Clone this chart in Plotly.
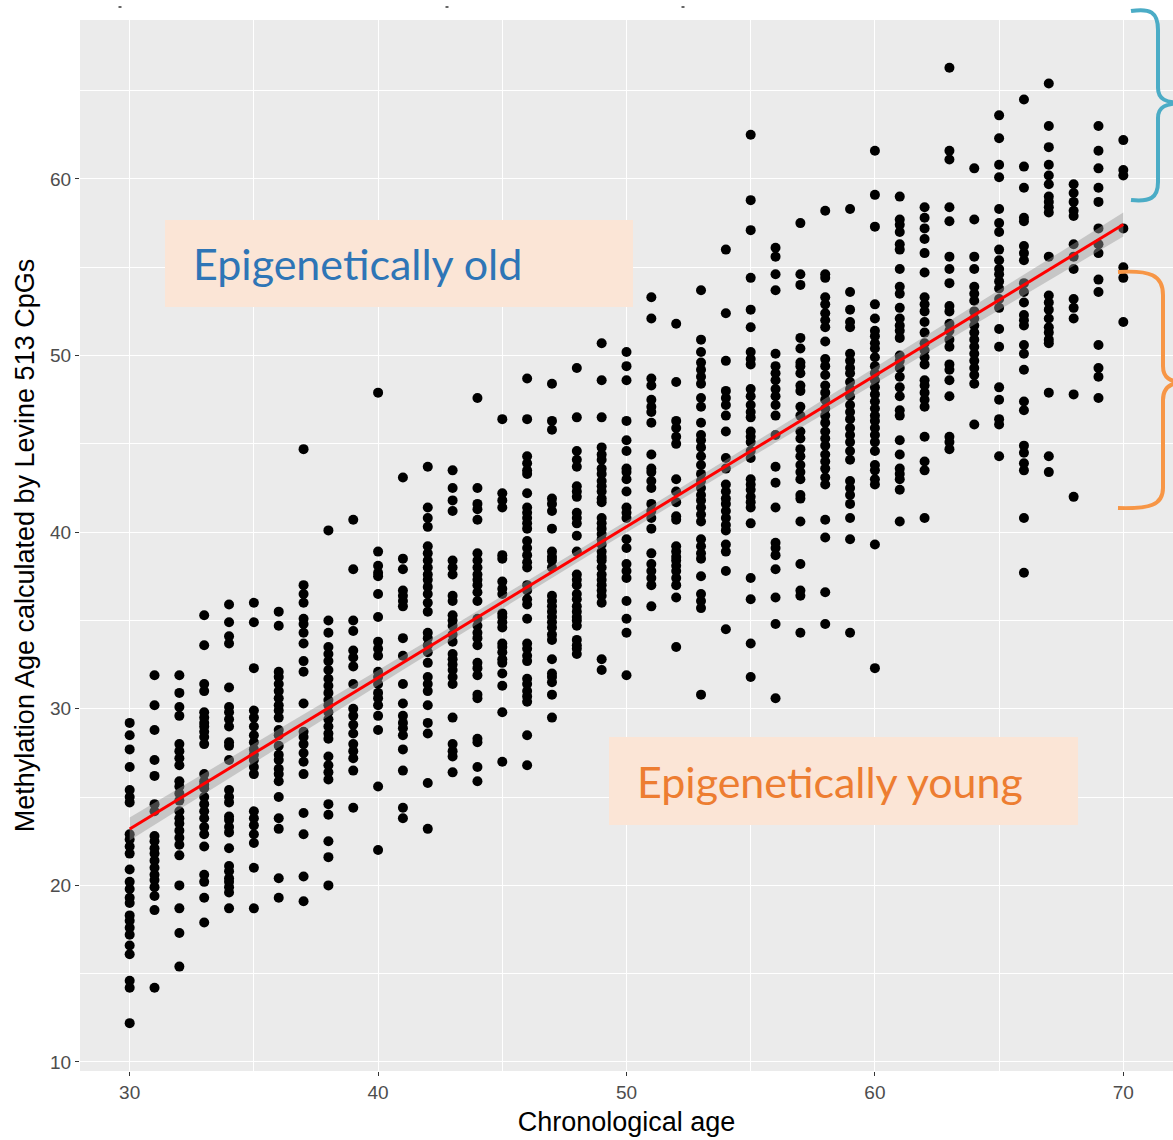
import numpy as np
import plotly.graph_objects as go

# ---------------- data: methylation age per chronological age column ----------------
ages = list(range(30, 71))

m30 = [29.2, 28.5, 27.7, 26.7, 25.4, 25.0, 24.7, 22.9, 22.6, 22.2, 21.8, 20.9, 20.2, 19.8, 19.3, 19.0, 18.3, 18.0, 17.6, 17.2, 16.6, 16.1, 14.6, 14.2, 12.2]
m31 = [31.9, 30.2, 28.8, 27.1, 26.2, 24.6, 24.2, 22.8, 22.5, 22.1, 21.8, 21.4, 21.0, 20.6, 20.3, 19.9, 19.4, 18.6, 14.2]
m32 = [31.9, 30.9, 30.1, 29.6, 28.0, 27.6, 27.2, 26.8, 25.9, 25.6, 25.2, 24.8, 24.2, 23.8, 23.5, 23.1, 22.7, 22.3, 21.7, 20.0, 18.7, 17.3, 15.4]
m33 = [35.3, 33.6, 31.4, 31.0, 29.8, 29.5, 29.2, 29.0, 28.7, 28.4, 28.0, 26.3, 25.9, 25.7, 25.5, 25.0, 24.6, 24.2, 23.8, 23.3, 22.9, 22.2, 20.6, 20.2, 19.3, 17.9]
m34 = [35.9, 34.9, 34.1, 33.7, 31.2, 30.1, 29.8, 29.4, 29.0, 28.1, 27.9, 27.1, 25.4, 25.0, 24.7, 23.9, 23.7, 23.3, 23.0, 22.1, 21.1, 20.8, 20.4, 20.2, 19.9, 19.6, 18.7]
m35 = [36.0, 34.9, 32.3, 29.9, 29.5, 29.0, 28.5, 28.1, 27.7, 27.4, 27.1, 26.7, 26.3, 24.2, 23.8, 23.4, 22.9, 22.4, 21.0, 18.7]
m36 = [35.5, 34.7, 32.1, 31.8, 31.4, 31.0, 30.6, 30.2, 29.9, 29.5, 28.8, 28.5, 27.9, 27.4, 27.1, 26.6, 26.3, 25.9, 25.0, 23.8, 23.2, 20.4, 19.3]
m37 = [44.7, 37.0, 36.5, 36.0, 35.1, 34.8, 34.3, 33.7, 32.7, 32.1, 30.3, 28.7, 28.4, 28.0, 27.5, 27.0, 26.3, 24.1, 22.9, 20.5, 19.1]
m38 = [40.1, 35.0, 34.3, 33.5, 33.1, 32.7, 32.2, 31.7, 31.3, 30.9, 30.5, 30.2, 29.8, 29.4, 29.0, 28.6, 28.3, 27.3, 26.8, 26.4, 26.0, 24.6, 24.0, 22.5, 21.6, 20.0]
m39 = [40.7, 37.9, 35.0, 34.4, 33.3, 32.9, 32.4, 31.4, 30.0, 29.6, 29.1, 28.6, 28.0, 27.6, 27.2, 26.5, 24.4]
m40 = [47.9, 38.9, 38.1, 37.7, 37.5, 36.5, 35.2, 33.8, 33.4, 33.0, 32.1, 31.8, 31.4, 30.9, 30.6, 30.2, 29.6, 28.8, 25.6, 22.0]
m41 = [43.1, 38.5, 37.9, 36.7, 36.4, 36.1, 35.8, 34.0, 33.0, 31.4, 30.3, 29.6, 29.2, 28.9, 28.5, 27.7, 26.5, 24.4, 23.8]
m42 = [43.7, 41.4, 40.8, 40.3, 39.2, 38.8, 38.4, 38.0, 37.6, 37.3, 36.9, 36.5, 36.0, 35.5, 34.3, 34.0, 33.6, 33.2, 32.6, 31.8, 31.4, 31.0, 30.2, 29.2, 28.6, 25.8, 23.2]
m43 = [43.5, 42.5, 41.8, 41.2, 38.4, 38.0, 37.6, 36.4, 36.1, 35.3, 35.0, 34.7, 34.2, 33.8, 33.1, 32.8, 32.5, 32.2, 31.8, 31.4, 29.5, 28.0, 27.6, 27.3, 26.4]
m44 = [47.6, 42.5, 41.6, 41.3, 40.7, 38.8, 38.4, 38.0, 37.6, 37.3, 37.0, 36.6, 36.1, 35.1, 34.7, 34.3, 34.0, 33.6, 32.6, 32.3, 31.9, 30.8, 30.6, 28.3, 28.1, 26.7, 25.9]
m45 = [46.4, 42.2, 41.8, 41.4, 38.7, 38.5, 37.2, 36.8, 36.5, 35.4, 35.2, 34.9, 34.6, 33.7, 33.5, 33.2, 32.8, 32.6, 32.0, 31.3, 29.8, 27.0]
m46 = [48.7, 46.4, 44.3, 43.9, 43.5, 43.3, 42.2, 41.4, 41.1, 40.8, 40.5, 40.2, 39.5, 39.1, 38.7, 38.3, 38.0, 37.0, 36.7, 36.2, 35.9, 35.1, 33.7, 33.4, 33.0, 32.7, 31.7, 31.4, 31.0, 30.7, 30.4, 28.5, 26.8]
m47 = [48.4, 46.3, 45.8, 41.9, 41.6, 41.2, 40.2, 38.9, 38.6, 38.4, 38.0, 36.4, 36.1, 35.8, 35.5, 35.2, 34.9, 34.6, 34.2, 33.9, 32.8, 32.0, 31.8, 31.5, 30.8, 29.5]
m48 = [49.3, 46.5, 44.6, 44.1, 43.7, 42.6, 42.3, 42.0, 41.1, 40.8, 40.5, 39.8, 38.9, 37.6, 37.3, 37.0, 36.5, 36.2, 35.8, 35.5, 35.2, 35.0, 34.7, 33.9, 33.6, 33.4, 33.1]
m49 = [50.7, 48.6, 46.5, 44.8, 44.4, 44.1, 43.6, 43.3, 42.9, 42.6, 42.3, 41.9, 41.7, 40.8, 40.5, 40.2, 39.9, 39.6, 39.3, 38.9, 38.6, 38.4, 38.0, 37.6, 37.3, 37.0, 36.7, 36.4, 36.0, 32.8, 32.2]
m50 = [50.2, 49.4, 48.6, 46.3, 45.2, 44.6, 43.6, 43.4, 43.0, 42.3, 41.4, 41.1, 40.8, 39.6, 39.1, 38.2, 37.8, 37.4, 36.1, 35.1, 34.3, 31.9]
m51 = [53.3, 52.1, 48.7, 48.3, 47.5, 47.1, 46.8, 46.2, 44.4, 43.6, 43.4, 42.9, 42.5, 41.6, 41.2, 40.8, 40.2, 38.8, 38.2, 37.8, 37.4, 37.0, 35.8]
m52 = [51.8, 48.5, 46.3, 45.9, 45.4, 45.0, 43.0, 42.3, 41.7, 40.9, 40.7, 39.2, 38.9, 38.6, 38.4, 38.1, 37.8, 37.4, 37.0, 36.3, 33.5]
m53 = [53.7, 50.9, 50.2, 49.6, 49.2, 48.8, 48.4, 47.6, 47.1, 46.2, 45.5, 45.2, 44.8, 44.3, 43.8, 43.3, 42.9, 42.5, 42.1, 41.8, 41.4, 41.0, 40.6, 39.6, 39.2, 38.8, 38.5, 37.5, 36.5, 36.1, 35.7, 30.8]
m54 = [56.0, 52.4, 49.7, 48.0, 47.6, 47.2, 46.6, 45.7, 44.2, 43.6, 42.7, 42.3, 41.9, 41.6, 41.2, 40.8, 40.4, 40.1, 39.3, 38.9, 37.8, 34.5]
m55 = [62.5, 58.8, 57.1, 54.4, 52.6, 51.6, 50.2, 49.8, 49.5, 48.1, 47.7, 47.2, 46.8, 46.5, 45.7, 45.4, 45.1, 44.6, 44.2, 43.0, 42.7, 42.4, 42.0, 41.7, 41.4, 40.5, 37.4, 36.2, 33.7, 31.8]
m56 = [56.1, 55.6, 54.6, 53.7, 50.1, 49.4, 49.0, 48.6, 48.1, 47.7, 47.2, 46.6, 45.5, 43.7, 42.8, 41.4, 39.4, 39.1, 38.7, 37.9, 36.3, 34.8, 30.6]
m57 = [57.5, 54.6, 54.0, 51.0, 50.4, 49.6, 49.4, 49.0, 48.3, 48.0, 47.1, 46.6, 45.7, 45.3, 44.7, 44.3, 43.8, 43.4, 43.0, 42.1, 41.9, 40.6, 38.2, 36.7, 36.4, 34.3]
m58 = [58.2, 54.6, 54.4, 53.3, 52.9, 52.4, 52.0, 51.6, 50.8, 49.8, 49.4, 48.9, 48.3, 47.9, 47.5, 47.0, 46.6, 46.2, 45.7, 45.3, 44.9, 44.4, 44.0, 43.6, 43.1, 42.7, 40.7, 39.7, 36.6, 34.8]
m59 = [58.3, 53.6, 52.6, 51.9, 51.6, 50.1, 49.7, 49.3, 49.0, 48.5, 48.1, 47.7, 47.2, 46.8, 46.4, 45.9, 45.5, 45.1, 44.6, 44.1, 42.9, 42.5, 42.1, 41.6, 40.8, 39.6, 34.3]
m60 = [61.6, 59.1, 57.3, 52.9, 52.1, 51.4, 51.1, 50.7, 50.4, 49.9, 49.4, 49.0, 48.6, 48.2, 47.8, 47.4, 47.0, 46.6, 46.3, 45.9, 45.5, 45.1, 44.6, 43.8, 43.5, 43.0, 42.7, 39.3, 32.3]
m61 = [59.0, 57.7, 57.4, 57.0, 56.3, 56.0, 54.9, 53.9, 53.5, 52.7, 52.1, 51.7, 51.4, 51.0, 50.0, 49.7, 49.3, 48.8, 48.2, 47.7, 46.9, 46.6, 45.2, 44.4, 43.6, 43.3, 43.0, 42.4, 40.6]
m62 = [58.4, 57.8, 57.2, 56.6, 55.8, 54.7, 53.3, 52.9, 52.5, 51.9, 51.3, 50.7, 50.3, 49.9, 49.5, 48.6, 48.3, 47.9, 47.5, 47.1, 45.4, 44.0, 43.5, 40.8]
m63 = [66.3, 61.6, 61.1, 58.4, 57.6, 55.6, 54.9, 54.1, 52.8, 52.5, 51.8, 51.4, 50.9, 50.5, 49.5, 49.2, 48.6, 47.7, 45.4, 45.1, 44.7]
m64 = [60.6, 57.7, 55.6, 54.9, 53.9, 53.5, 53.1, 52.5, 52.1, 51.7, 51.3, 50.9, 50.5, 50.1, 49.7, 49.3, 48.9, 48.4, 46.1]
m65 = [63.6, 62.3, 60.8, 60.1, 58.3, 57.5, 57.0, 56.0, 55.4, 54.9, 54.6, 54.2, 53.8, 53.2, 52.7, 51.5, 50.5, 48.2, 47.5, 46.4, 46.1, 44.3]
m66 = [64.5, 60.7, 59.5, 57.8, 57.6, 56.2, 55.8, 55.4, 54.1, 53.6, 53.0, 52.3, 52.0, 51.7, 50.6, 50.1, 49.2, 47.4, 46.9, 44.9, 44.5, 43.9, 43.5, 40.8, 37.7]
m67 = [65.4, 63.0, 61.8, 60.8, 60.2, 59.7, 59.0, 58.7, 58.4, 58.1, 55.6, 53.4, 53.0, 52.6, 52.1, 51.6, 51.3, 50.9, 50.7, 47.9, 44.3, 43.4]
m68 = [59.7, 59.2, 58.7, 58.2, 57.9, 56.3, 55.6, 54.9, 53.2, 52.7, 52.1, 47.8, 42.0]
m69 = [63.0, 61.6, 60.6, 59.5, 58.7, 57.2, 56.3, 55.8, 54.3, 53.6, 50.6, 49.3, 48.8, 47.6]
m70 = [62.2, 60.5, 60.2, 57.2, 55.0, 54.4, 51.9]

columns = [m30, m31, m32, m33, m34, m35, m36, m37, m38, m39, m40,
           m41, m42, m43, m44, m45, m46, m47, m48, m49, m50,
           m51, m52, m53, m54, m55, m56, m57, m58, m59, m60,
           m61, m62, m63, m64, m65, m66, m67, m68, m69, m70]

x_tick_vals = [30, 40, 50, 60, 70]
y_tick_vals = [10, 20, 30, 40, 50, 60]

x_title = "Chronological age"
y_title = "Methylation Age calculated by Levine 513 CpGs"
label_old = "Epigenetically old"
label_young = "Epigenetically young"

# ---------------- assemble ----------------
xs, ys = [], []
for a, vals in zip(ages, columns):
    xs += [a] * len(vals)
    ys += vals
xs = np.array(xs, dtype=float)
ys = np.array(ys, dtype=float)

# linear fit with 95% confidence band (like geom_smooth(method="lm"))
n = len(xs)
b1, b0 = np.polyfit(xs, ys, 1)
resid = ys - (b0 + b1 * xs)
s = np.sqrt(np.sum(resid ** 2) / (n - 2))
xbar = xs.mean()
sxx = np.sum((xs - xbar) ** 2)
xf = np.linspace(xs.min(), xs.max(), 80)
yf = b0 + b1 * xf
se = s * np.sqrt(1.0 / n + (xf - xbar) ** 2 / sxx)
tcrit = 1.962
upper = yf + tcrit * se
lower = yf - tcrit * se

fig = go.Figure()
fig.add_trace(go.Scatter(x=xs, y=ys, mode="markers",
                         marker=dict(color="black", size=10, line=dict(width=0)),
                         hoverinfo="x+y"))
fig.add_trace(go.Scatter(x=np.concatenate([xf, xf[::-1]]),
                         y=np.concatenate([upper, lower[::-1]]),
                         fill="toself", fillcolor="rgba(153,153,153,0.45)",
                         line=dict(width=0), hoverinfo="skip", mode="lines"))
fig.add_trace(go.Scatter(x=xf, y=yf, mode="lines",
                         line=dict(color="#FF0000", width=3), hoverinfo="skip"))

# ---------------- layout ----------------
W, H = 1173, 1140
L, R, T, B = 80, 0, 20, 69
pw, ph = W - L - R, H - T - B


def px(xp):
    return (xp - L) / pw


def py(yp):
    return (H - B - yp) / ph


def path(points_cmds):
    out = []
    for cmd, pts in points_cmds:
        coords = " ".join(f"{px(a):.5f},{py(b):.5f}" for a, b in pts)
        out.append(f"{cmd} {coords}")
    return " ".join(out)


blue_path = path([
    ("M", [(1131, 11)]),
    ("C", [(1150, 8), (1158, 12), (1158, 30)]),
    ("L", [(1158, 88)]),
    ("C", [(1158, 99), (1165, 103), (1185, 103)]),
    ("M", [(1185, 103)]),
    ("C", [(1165, 103), (1158, 107), (1158, 118)]),
    ("L", [(1158, 182)]),
    ("C", [(1158, 198), (1150, 202), (1131, 200)]),
])
orange_path = path([
    ("M", [(1118, 272)]),
    ("C", [(1150, 270), (1163, 275), (1163, 295)]),
    ("L", [(1163, 366)]),
    ("C", [(1163, 378), (1170, 382), (1185, 382)]),
    ("M", [(1185, 382)]),
    ("C", [(1170, 382), (1163, 388), (1163, 400)]),
    ("L", [(1163, 488)]),
    ("C", [(1163, 505), (1150, 509), (1118, 508)]),
])

shapes = [
    dict(type="rect", xref="paper", yref="paper", x0=px(165), x1=px(633), y0=py(307), y1=py(220),
         fillcolor="#FBE5D6", line=dict(width=0), layer="above"),
    dict(type="rect", xref="paper", yref="paper", x0=px(609), x1=px(1078), y0=py(825), y1=py(737),
         fillcolor="#FBE5D6", line=dict(width=0), layer="above"),
    dict(type="path", xref="paper", yref="paper", path=blue_path,
         line=dict(color="#4BACC6", width=4)),
    dict(type="path", xref="paper", yref="paper", path=orange_path,
         line=dict(color="#F79646", width=4)),
]
for xm in (120, 447, 683):
    shapes.append(dict(type="line", xref="paper", yref="paper", x0=px(xm - 1.5), x1=px(xm + 1.5),
                       y0=py(7), y1=py(7), line=dict(color="#666666", width=2)))

annotations = [
    dict(text=label_old, xref="paper", yref="paper", x=px(191), y=py(264),
         xanchor="left", yanchor="middle", showarrow=False,
         font=dict(family="Lato, 'Open Sans', sans-serif", size=43, color="#2E75B6")),
    dict(text=label_young, xref="paper", yref="paper", x=px(635), y=py(781),
         xanchor="left", yanchor="middle", showarrow=False,
         font=dict(family="Lato, 'Open Sans', sans-serif", size=43, color="#ED7D31")),
]

axis_common = dict(
    showgrid=True, gridcolor="white", gridwidth=1.3,
    zeroline=False, showline=False,
    ticks="outside", ticklen=4, tickwidth=1, tickcolor="#333333",
    tickfont=dict(family="Liberation Sans, Arial, sans-serif", size=19, color="#4D4D4D"),
    minor=dict(dtick=5, showgrid=True, gridcolor="white", gridwidth=0.6),
    automargin=False,
)

fig.update_layout(
    width=W, height=H,
    margin=dict(l=L, r=R, t=T, b=B),
    plot_bgcolor="#EBEBEB", paper_bgcolor="white",
    showlegend=False,
    shapes=shapes, annotations=annotations,
    xaxis=dict(range=[28, 72], tickmode="array", tickvals=x_tick_vals,
               title=dict(text=x_title, standoff=10,
                          font=dict(family="Liberation Sans, Arial, sans-serif", size=27, color="black")),
               **axis_common),
    yaxis=dict(range=[9.49, 69.0], tickmode="array", tickvals=y_tick_vals,
               title=dict(text=y_title, standoff=7,
                          font=dict(family="Liberation Sans, Arial, sans-serif", size=27, color="black")),
               **axis_common),
)
fig.update_xaxes(tick0=30, dtick=10, minor=dict(tick0=25, dtick=5))
fig.update_yaxes(tick0=10, dtick=10, minor=dict(tick0=15, dtick=5))

fig.write_html("out.html")
